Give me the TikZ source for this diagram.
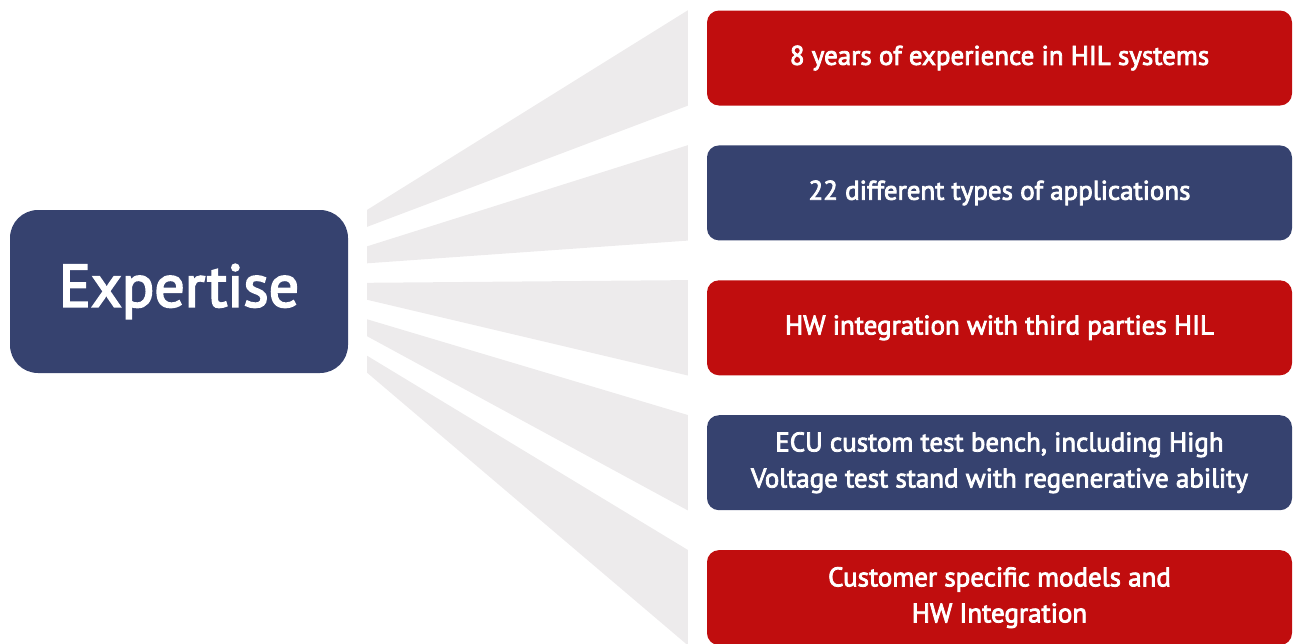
\documentclass[tikz,border=0pt]{standalone}
\usepackage{fontspec}
\setmainfont{PT Sans}
\newfontfamily\boxfont{PT Sans}[FakeBold=3]
\usetikzlibrary{positioning}

\definecolor{hilred}{HTML}{C00D0E}
\definecolor{hilblue}{HTML}{36426F}
\definecolor{fangray}{HTML}{EDEBEC}

\begin{document}
\begin{tikzpicture}[
    x=1pt, y=-1pt,
    node distance=39.5pt and 0pt, % gap between the topic boxes
    box/.style={
        rounded corners=12pt,
        align=center,
        text=white,
        font=\boxfont\fontsize{27}{36}\selectfont,
        minimum width=585pt,
        minimum height=95pt,
        inner sep=0pt
    },
    redbox/.style={box, fill=hilred},
    bluebox/.style={box, fill=hilblue},
    hub/.style={box, fill=hilblue, rounded corners=28pt, minimum width=338pt, minimum height=163pt, font=\boxfont\fontsize{60}{70}\selectfont},
    fan/.style={fill=fangray}
]
\useasboundingbox (0,0) rectangle (1293,643);

% Central topic
\node[hub] (expertise) at (179,291.5) {Expertise};

% Topics, stacked on the right
\node[redbox] (years) at (999.5,58) {8 years of experience in HIL systems};
\node[bluebox, below=of years] (apps) {22 different types of applications};
\node[redbox, below=of apps] (thirdparty) {HW integration with third parties HIL};
\node[bluebox, below=of thirdparty] (bench) {ECU custom test bench, including High\\Voltage test stand with regenerative ability};
\node[redbox, below=of bench] (models) {Customer specific models and\\HW Integration};

% Fan of grey rays from the hub to every topic
\foreach \t [count=\i from 0, evaluate=\i as \dy using -36.5*\i] in {years, apps, thirdparty, bench, models}
    \fill[fan] ([xshift=19pt, yshift=\dy pt]expertise.north east)
        -- ([xshift=-19pt]\t.north west)
        -- ([xshift=-19pt]\t.south west)
        -- ([xshift=19pt, yshift=\dy pt-17pt]expertise.north east) -- cycle;

\end{tikzpicture}
\end{document}
